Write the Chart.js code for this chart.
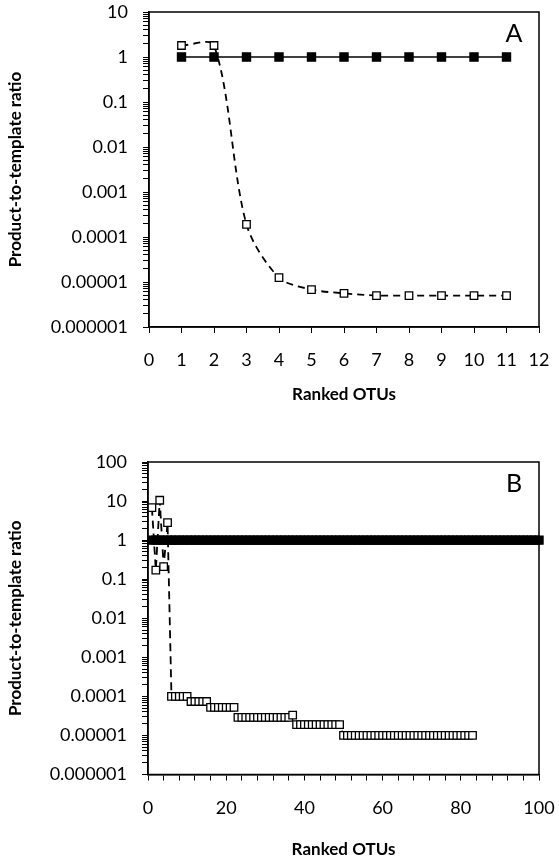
<!DOCTYPE html>
<html>
<head>
<meta charset="utf-8">
<script src="https://cdn.jsdelivr.net/npm/chart.js@4.4.0/dist/chart.umd.min.js"></script>
<style>
    body { margin: 0; background: #fff; }
    #wrap { position: relative; width: 559px; height: 861px; }
    canvas { position: absolute; left: 0; }
</style>
</head>
<body>
<div id="wrap">
    <canvas id="chart-a" width="559" height="415" style="top:0px"></canvas>
    <canvas id="chart-b" width="559" height="446" style="top:415px"></canvas>
</div>
<script>
// --- DATA ---
// Panel A: 11 ranked OTUs
const panelAStandard = [1, 1, 1, 1, 1, 1, 1, 1, 1, 1, 1];
const panelAProduct = [1.8, 1.8, 0.00019, 0.0000125, 0.0000068, 0.0000056, 0.000005, 0.000005, 0.000005, 0.000005, 0.000005];

// Panel B: 100 ranked OTUs (standard) and 83 ranked OTUs (product)
const panelBStandard = [
    1, 1, 1, 1, 1, 1, 1, 1, 1, 1, 1, 1, 1, 1, 1, 1, 1, 1, 1, 1,
    1, 1, 1, 1, 1, 1, 1, 1, 1, 1, 1, 1, 1, 1, 1, 1, 1, 1, 1, 1,
    1, 1, 1, 1, 1, 1, 1, 1, 1, 1, 1, 1, 1, 1, 1, 1, 1, 1, 1, 1,
    1, 1, 1, 1, 1, 1, 1, 1, 1, 1, 1, 1, 1, 1, 1, 1, 1, 1, 1, 1,
    1, 1, 1, 1, 1, 1, 1, 1, 1, 1, 1, 1, 1, 1, 1, 1, 1, 1, 1, 1
];
const panelBProduct = [
    6.8, 0.17, 10.5, 0.21, 2.8,
    0.0001, 0.0001, 0.0001, 0.0001, 0.0001,
    0.000074, 0.000074, 0.000074, 0.000074, 0.000074,
    0.000052, 0.000052, 0.000052, 0.000052, 0.000052, 0.000052, 0.000052,
    0.000029, 0.000029, 0.000029, 0.000029, 0.000029, 0.000029, 0.000029,
    0.000029, 0.000029, 0.000029, 0.000029, 0.000029, 0.000029, 0.000029, 0.000033,
    0.000019, 0.000019, 0.000019, 0.000019, 0.000019, 0.000019,
    0.000019, 0.000019, 0.000019, 0.000019, 0.000019, 0.000019,
    0.00001, 0.00001, 0.00001, 0.00001, 0.00001, 0.00001, 0.00001, 0.00001, 0.00001, 0.00001,
    0.00001, 0.00001, 0.00001, 0.00001, 0.00001, 0.00001, 0.00001, 0.00001, 0.00001, 0.00001,
    0.00001, 0.00001, 0.00001, 0.00001, 0.00001, 0.00001, 0.00001, 0.00001, 0.00001, 0.00001,
    0.00001, 0.00001, 0.00001, 0.00001
];

// Axis decades and their labels
const panelAYDecades = [0.000001, 0.00001, 0.0001, 0.001, 0.01, 0.1, 1, 10];
const panelAYLabels = ['0.000001', '0.00001', '0.0001', '0.001', '0.01', '0.1', '1', '10'];
const panelBYDecades = [0.000001, 0.00001, 0.0001, 0.001, 0.01, 0.1, 1, 10, 100];
const panelBYLabels = ['0.000001', '0.00001', '0.0001', '0.001', '0.01', '0.1', '1', '10', '100'];
const panelBXLabels = [0, 20, 40, 60, 80, 100];

const AXIS_TITLE_Y = 'Product-to-template ratio';
const AXIS_TITLE_X = 'Ranked OTUs';

Chart.defaults.font.family = 'Lato';
Chart.defaults.font.size = 18;
Chart.defaults.color = '#000';

// --- HELPERS ---
function toPoints(values) {
    return values.map((v, i) => ({ x: i + 1, y: v }));
}

// log ticks: a mark at 1..9 x each decade, labels only on decades
function logTicks(decades) {
    const ticks = [];
    for (let d = 0; d < decades.length - 1; d++) {
        for (let m = 1; m < 10; m++) ticks.push({ value: decades[d] * m });
    }
    ticks.push({ value: decades[decades.length - 1] });
    return ticks;
}

function decadeLabel(decades, labels) {
    return value => {
        const i = decades.findIndex(d => Math.abs(d - value) / d < 1e-9);
        return i >= 0 ? labels[i] : '';
    };
}

// frame round the plot area + the panel letter
const framePlugin = {
    id: 'frame',
    beforeDatasetsDraw(chart, args, opts) {
        const { ctx, chartArea: a } = chart;
        ctx.save();
        ctx.strokeStyle = '#000';
        ctx.lineWidth = 1.5;
        ctx.strokeRect(a.left, a.top, a.right - a.left, a.bottom - a.top);
        ctx.fillStyle = '#000';
        ctx.font = '25px Lato';
        ctx.textAlign = 'center';
        ctx.textBaseline = 'middle';
        ctx.fillText(opts.letter, a.right - 25, a.top + 22);
        ctx.restore();
    }
};

function makeChart(canvasId, cfg) {
    const ctx = document.getElementById(canvasId).getContext('2d');
    return new Chart(ctx, {
        type: 'line',
        data: {
            datasets: [
                {
                    data: toPoints(cfg.product),
                    borderColor: '#000',
                    borderWidth: 1.8,
                    borderDash: cfg.dash,
                    tension: cfg.tension,
                    pointStyle: 'rect',
                    pointRadius: 5.3,
                    pointBorderWidth: 1.3,
                    pointBackgroundColor: '#fff',
                    pointBorderColor: '#000',
                    clip: false
                },
                {
                    data: toPoints(cfg.standard),
                    borderColor: '#000',
                    borderWidth: 1.5,
                    tension: 0,
                    pointStyle: 'rect',
                    pointRadius: 5.8,
                    pointBorderWidth: 1.2,
                    pointBackgroundColor: '#000',
                    pointBorderColor: '#000',
                    clip: false
                }
            ]
        },
        options: {
            responsive: false,
            animation: false,
            events: [],
            layout: { padding: { top: cfg.padTop, right: 20, bottom: 0, left: 0 } },
            plugins: {
                legend: { display: false },
                tooltip: { enabled: false },
                frame: { letter: cfg.letter }
            },
            scales: {
                x: {
                    type: 'linear',
                    min: 0,
                    max: cfg.xMax,
                    afterFit: s => {
                        s.height = cfg.xHeight;
                        s.paddingLeft = 0;
                        s.paddingRight = 0;
                    },
                    border: { color: '#000', width: 1.5 },
                    grid: { drawOnChartArea: false, drawTicks: true, tickLength: 6, tickColor: '#000', tickWidth: 1 },
                    ticks: {
                        stepSize: cfg.xStep,
                        autoSkip: false,
                        maxRotation: 0,
                        padding: 16.5,
                        callback: cfg.xLabel
                    },
                    title: {
                        display: true,
                        text: AXIS_TITLE_X,
                        font: { weight: 'bold', size: 17 },
                        padding: { top: 0, bottom: cfg.xTitlePad }
                    }
                },
                y: {
                    type: 'logarithmic',
                    min: cfg.yDecades[0],
                    max: cfg.yDecades[cfg.yDecades.length - 1],
                    afterFit: s => {
                        s.width = cfg.yWidth;
                        s.paddingTop = 0;
                        s.paddingBottom = 0;
                    },
                    afterBuildTicks: s => { s.ticks = logTicks(cfg.yDecades); },
                    border: { color: '#000', width: 1.5 },
                    grid: { drawOnChartArea: false, drawTicks: true, tickLength: 6, tickColor: '#000', tickWidth: 1 },
                    ticks: {
                        autoSkip: false,
                        padding: 15,
                        callback: decadeLabel(cfg.yDecades, cfg.yLabels)
                    },
                    title: {
                        display: true,
                        text: AXIS_TITLE_Y,
                        font: { weight: 'bold', size: 17 },
                        padding: { top: 5, bottom: 0 }
                    }
                }
            }
        },
        plugins: [framePlugin]
    });
}

// --- PANEL A ---
makeChart('chart-a', {
    letter: 'A',
    product: panelAProduct,
    standard: panelAStandard,
    dash: [7, 5],
    tension: 0.3,
    padTop: 12,
    xMax: 12,
    xStep: 1,
    xHeight: 88,
    xTitlePad: 9.8,
    xLabel: v => String(v),
    yWidth: 149,
    yDecades: panelAYDecades,
    yLabels: panelAYLabels
});

// --- PANEL B ---
makeChart('chart-b', {
    letter: 'B',
    product: panelBProduct,
    standard: panelBStandard,
    dash: [8, 5],
    tension: 0,
    padTop: 47,
    xMax: 100,
    xStep: 4,
    xHeight: 86.5,
    xTitlePad: 0.8,
    xLabel: v => (panelBXLabels.includes(v) ? String(v) : ''),
    yWidth: 148,
    yDecades: panelBYDecades,
    yLabels: panelBYLabels
});
</script>
</body>
</html>
